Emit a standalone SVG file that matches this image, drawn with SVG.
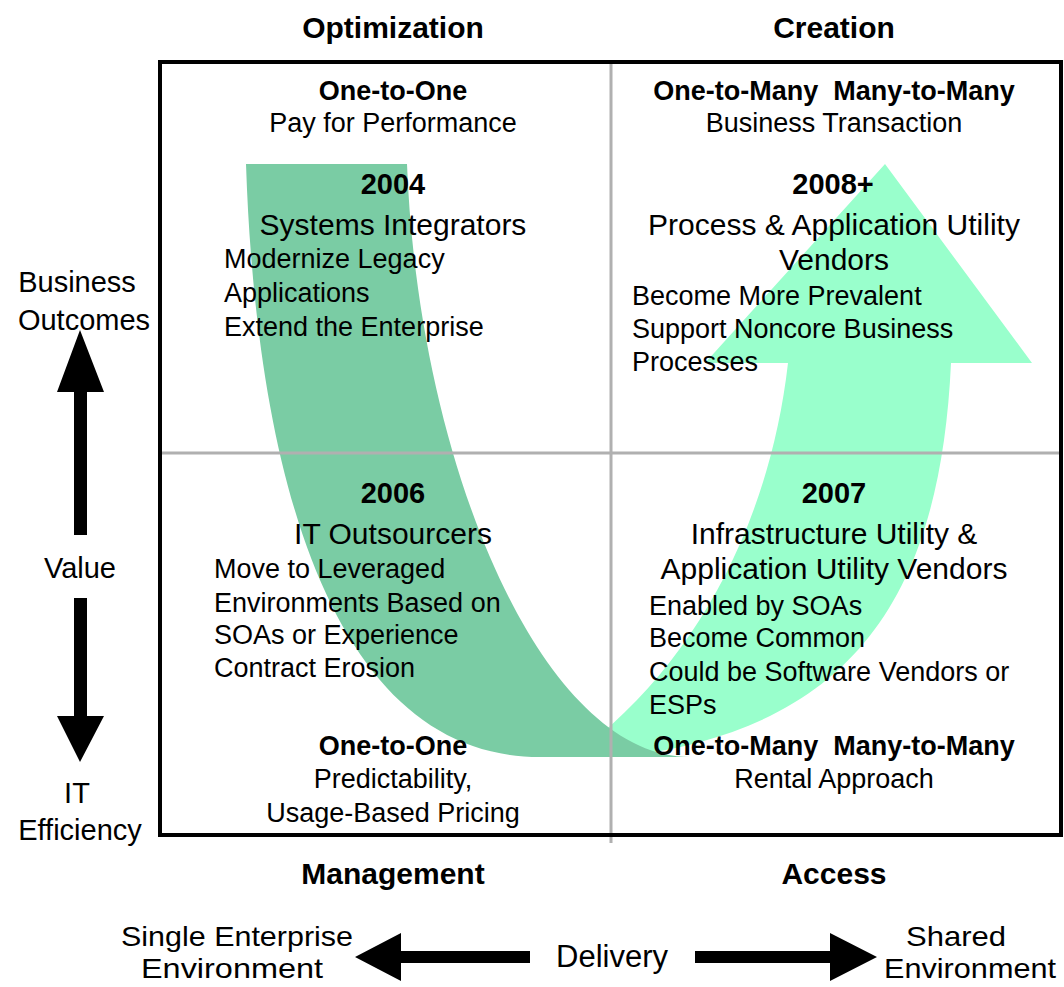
<svg xmlns="http://www.w3.org/2000/svg" width="1064" height="987" viewBox="0 0 1064 987">
<style>
text{font-family:"Liberation Sans",Arial,sans-serif;fill:#000}
.h{font-size:30px;font-weight:bold;text-anchor:middle}
.yr{font-size:29px;font-weight:bold;text-anchor:middle}
.tt{font-size:30px;text-anchor:middle}
.b{font-size:27px}
.bc{font-size:27px;text-anchor:middle}
.bb{font-size:27px;font-weight:bold;text-anchor:middle;white-space:pre}
.ax{font-size:29px;text-anchor:middle}
.dx{font-size:31px;text-anchor:middle}
.dx2{font-size:28px;text-anchor:middle}
.grid{stroke:#b0b0b0;stroke-width:3;fill:none}
.arr{fill:#000}
</style>
<g id="connectors">
  <path id="light-arrow" fill="#99FFCC" d="M600,735 C700,650 770,520 788,363 L705,363 L885,164 L1032,363 L951,363 C940,600 850,730 620,757 Z"/>
  <path id="dark-arrow" fill="#7ACCA4" d="M246,164 L407,164 C418,460 540,757 690,757 L540,757 C350,757 258,520 246,164 Z"/>
  <path id="value-up" class="arr" d="M74,535 L74,392 L57,392 L80,330 L104,392 L87,392 L87,535 Z"/>
  <path id="value-down" class="arr" d="M74,598 L74,716 L57,716 L80,762 L104,716 L87,716 L87,598 Z"/>
  <path id="delivery-left" class="arr" d="M530,951 L401,951 L401,933 L355,957 L401,981 L401,963 L530,963 Z"/>
  <path id="delivery-right" class="arr" d="M695,951 L830,951 L830,933 L877,957 L830,981 L830,963 L695,963 Z"/>
</g>
<g id="grid">
  <line class="grid" x1="611" y1="62" x2="611" y2="843"/>
  <line class="grid" x1="160" y1="453" x2="1061" y2="453"/>
  <rect x="160" y="62" width="901" height="773" fill="none" stroke="#000" stroke-width="4"/>
</g>
<g id="headers">
  <text class="h" x="393" y="38">Optimization</text>
  <text class="h" x="834" y="38">Creation</text>
  <text class="h" x="393" y="884">Management</text>
  <text class="h" x="834" y="884">Access</text>
</g>
<g id="value-axis">
  <text class="ax" x="77" y="292">Business</text>
  <text class="ax" x="84" y="330">Outcomes</text>
  <text class="ax" x="80" y="578">Value</text>
  <text class="ax" x="77" y="803">IT</text>
  <text class="ax" x="80" y="840">Efficiency</text>
</g>
<g id="delivery-axis">
  <text class="dx2" x="237" y="946" textLength="232" lengthAdjust="spacingAndGlyphs">Single Enterprise</text>
  <text class="dx2" x="232" y="978" textLength="182" lengthAdjust="spacingAndGlyphs">Environment</text>
  <text class="dx" x="612" y="967">Delivery</text>
  <text class="dx2" x="956" y="946" textLength="100" lengthAdjust="spacingAndGlyphs">Shared</text>
  <text class="dx2" x="970" y="978" textLength="172" lengthAdjust="spacingAndGlyphs">Environment</text>
</g>
<g id="q-2004">
  <text class="bb" x="393" y="100">One-to-One</text>
  <text class="bc" x="393" y="132">Pay for Performance</text>
  <text class="yr" x="393" y="194">2004</text>
  <text class="tt" x="393" y="235">Systems Integrators</text>
  <text class="b" x="224" y="268">Modernize Legacy</text>
  <text class="b" x="224" y="302">Applications</text>
  <text class="b" x="224" y="336">Extend the Enterprise</text>
</g>
<g id="q-2008">
  <text class="bb" x="834" y="100">One-to-Many  Many-to-Many</text>
  <text class="bc" x="834" y="132">Business Transaction</text>
  <text class="yr" x="833" y="194">2008+</text>
  <text class="tt" x="834" y="235">Process &amp; Application Utility</text>
  <text class="tt" x="834" y="270">Vendors</text>
  <text class="b" x="632" y="305">Become More Prevalent</text>
  <text class="b" x="632" y="338">Support Noncore Business</text>
  <text class="b" x="632" y="371">Processes</text>
</g>
<g id="q-2006">
  <text class="yr" x="393" y="503">2006</text>
  <text class="tt" x="393" y="544">IT Outsourcers</text>
  <text class="b" x="214" y="578">Move to Leveraged</text>
  <text class="b" x="214" y="612">Environments Based on</text>
  <text class="b" x="214" y="644">SOAs or Experience</text>
  <text class="b" x="214" y="677">Contract Erosion</text>
  <text class="bb" x="393" y="755">One-to-One</text>
  <text class="bc" x="393" y="788">Predictability,</text>
  <text class="bc" x="393" y="822">Usage-Based Pricing</text>
</g>
<g id="q-2007">
  <text class="yr" x="834" y="503">2007</text>
  <text class="tt" x="834" y="544">Infrastructure Utility &amp;</text>
  <text class="tt" x="834" y="579">Application Utility Vendors</text>
  <text class="b" x="649" y="615">Enabled by SOAs</text>
  <text class="b" x="649" y="647">Become Common</text>
  <text class="b" x="649" y="681">Could be Software Vendors or</text>
  <text class="b" x="649" y="714">ESPs</text>
  <text class="bb" x="834" y="755">One-to-Many  Many-to-Many</text>
  <text class="bc" x="834" y="788">Rental Approach</text>
</g>
</svg>
